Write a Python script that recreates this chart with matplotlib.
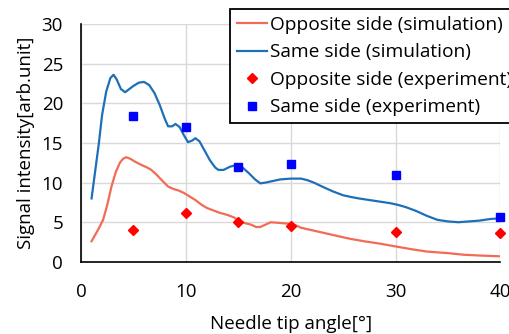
import matplotlib
matplotlib.use("Agg")
import matplotlib.pyplot as plt

plt.rcParams["font.family"] = ["Open Sans", "DejaVu Sans"]

# simulation curves
same_sim_x = [1.0, 1.3, 1.7, 2.0, 2.4, 2.8, 3.1, 3.4, 3.8, 4.2, 4.6, 5.0, 5.5, 6.0, 6.5, 7.0, 7.5, 8.0, 8.3, 8.7,
              9.0, 9.4, 9.8, 10.2, 10.6, 10.9, 11.3, 11.8, 12.3, 12.8, 13.1, 13.6, 14.2, 14.8, 15.4, 16.0, 16.6,
              17.1, 17.6, 18.3, 19.0, 20.0, 21.0, 21.6, 22.2, 23.0, 24.0, 25.0, 25.7, 26.5, 27.5, 28.5, 29.5,
              30.2, 31.0, 32.0, 33.0, 34.0, 35.0, 36.0, 37.0, 38.0, 39.0, 40.0]
same_sim_y = [8.0, 11.0, 15.0, 18.5, 21.5, 23.2, 23.6, 23.0, 21.8, 21.4, 21.8, 22.2, 22.6, 22.7, 22.3, 21.3, 19.8, 18.0,
              17.1, 17.1, 17.4, 17.0, 16.0, 15.1, 15.3, 15.6, 15.2, 14.0, 12.8, 11.9, 11.6, 11.6, 12.0, 12.2, 11.9, 11.2, 10.4,
              9.9, 10.0, 10.2, 10.4, 10.5, 10.5, 10.3, 10.0, 9.5, 8.9, 8.4, 8.2, 8.0, 7.8, 7.6, 7.4,
              7.2, 6.9, 6.4, 5.8, 5.3, 5.1, 5.0, 5.1, 5.2, 5.4, 5.5]
opp_sim_x = [1.0, 1.3, 1.6, 2.1, 2.5, 2.9, 3.3, 3.7, 4.0, 4.3, 4.7, 5.2, 5.8, 6.3, 6.7, 7.2, 7.7, 8.3, 8.8, 9.3, 9.8,
             10.3, 10.9, 11.5, 12.0, 12.4, 13.2, 14.0, 14.6, 15.0, 15.6, 16.2, 16.7, 17.1, 17.6, 18.1, 19.0, 20.0,
             20.5, 21.0, 22.0, 23.0, 24.0, 25.0, 25.7, 27.0, 28.5, 30.2, 31.5, 33.0, 34.0, 35.0, 36.5, 38.0, 40.0]
opp_sim_y = [2.6, 3.3, 4.0, 5.3, 7.2, 9.5, 11.3, 12.5, 13.0, 13.2, 13.0, 12.6, 12.2, 11.9, 11.6, 11.0, 10.3, 9.5, 9.2, 9.0, 8.7,
             8.3, 7.8, 7.2, 6.8, 6.6, 6.2, 5.9, 5.6, 5.2, 4.9, 4.7, 4.4, 4.4, 4.7, 5.0, 4.9, 4.8,
             4.6, 4.3, 4.0, 3.7, 3.4, 3.1, 2.9, 2.6, 2.3, 1.9, 1.6, 1.3, 1.2, 1.1, 0.9, 0.8, 0.7]

# experiment points
exp_x = [5, 10, 15, 20, 30, 40]
opp_exp = [4.0, 6.2, 5.0, 4.5, 3.8, 3.6]
same_exp = [18.4, 17.0, 12.0, 12.4, 11.0, 5.7]

fig = plt.figure(figsize=(5.10, 3.34), dpi=100)
ax = fig.add_axes([0.159, 0.216, 0.822, 0.712])

ax.plot(opp_sim_x, opp_sim_y, color="#F26B55", lw=1.6, label="Opposite side (simulation)")
ax.plot(same_sim_x, same_sim_y, color="#1F6FB8", lw=1.6, label="Same side (simulation)")
ax.plot(exp_x, opp_exp, "D", color="#FF0000", ms=5, ls="none", clip_on=False, label="Opposite side (experiment)")
ax.plot(exp_x, same_exp, "s", color="#0000FF", ms=6, ls="none", clip_on=False, label="Same side (experiment)")

ax.set_xlim(0, 40)
ax.set_ylim(0, 30)
ax.set_xticks([0, 10, 20, 30, 40])
ax.set_yticks([0, 5, 10, 15, 20, 25, 30])
ax.grid(color="#d9d9d9", lw=1)
ax.set_axisbelow(True)
for s in ["top", "right"]:
    ax.spines[s].set_visible(False)
for s in ["left", "bottom"]:
    ax.spines[s].set_color("black")
    ax.spines[s].set_linewidth(1.2)
ax.tick_params(length=0, labelsize=13.5)
ax.tick_params(axis="x", pad=15)
ax.tick_params(axis="y", pad=13)

ax.set_xlabel("Needle tip angle[°]", fontsize=13.5, labelpad=10)
ax.set_ylabel("Signal intensity[arb.unit]", fontsize=13.5, labelpad=5)

leg = fig.legend(loc="upper left", bbox_to_anchor=(230 / 510, 1 - 9 / 334), fontsize=13.8,
                 frameon=True, fancybox=False, edgecolor="black", framealpha=1,
                 handlelength=1.6, handletextpad=0.15, labelspacing=0.5, borderpad=0.35,
                 borderaxespad=0)
leg.get_frame().set_linewidth(1.3)

fig.savefig("out.png", dpi=100)
